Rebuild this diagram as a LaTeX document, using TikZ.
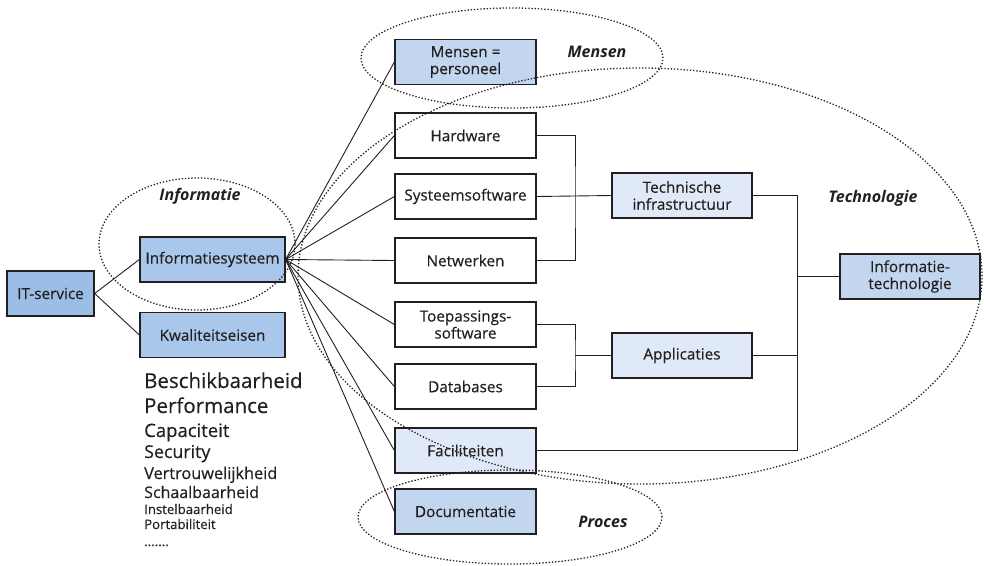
\documentclass[tikz,border=0pt]{standalone}
\usepackage{fontspec}
\setmainfont{Open Sans}[UprightFeatures={FakeBold=0.35}]
\begin{document}
\definecolor{ink}{HTML}{231F20}
\definecolor{blueA}{HTML}{9BBDE6}
\definecolor{blueB}{HTML}{A9C7EB}
\definecolor{blueC}{HTML}{C3D6EF}
\definecolor{blueD}{HTML}{E0E9F7}
\begin{tikzpicture}[x=1pt,y=-1pt,
  box/.style={draw=ink,line width=1.3pt,rectangle,minimum width=141pt,minimum height=45pt,
    inner sep=1pt,align=center,font=\fontsize{15.3}{17}\selectfont,text=ink},
  link/.style={draw=ink,line width=0.9pt},
  zone/.style={draw=ink,line width=1.3pt,dash pattern=on 1.3pt off 1.9pt},
  zonelabel/.style={font=\fontsize{16}{18}\selectfont\bfseries\itshape,text=ink},
  req/.style={anchor=base west,inner sep=0pt,text=ink}]
\useasboundingbox (0,0) rectangle (984,565);

% left part
\node[box,fill=blueA,minimum width=87pt] (it) at (50.5,293.5) {IT-service};
\node[box,fill=blueB,minimum width=145pt] (isys) at (212.5,259.5) {Informatiesysteem};
\node[box,fill=blueB,minimum width=145pt] (kwal) at (212.5,335) {Kwaliteitseisen};

% middle column
\node[box,fill=blueC] (mens) at (465.5,62) {Mensen =\\personeel};
\node[box,fill=white] (hw) at (465.5,135.5) {Hardware};
\node[box,fill=white] (sys) at (465.5,196.5) {Systeemsoftware};
\node[box,fill=white] (net) at (465.5,260.5) {Netwerken};
\node[box,fill=white] (toep) at (465.5,324.5) {Toepassings-\\software};
\node[box,fill=white] (db) at (465.5,386.5) {Databases};
\node[box,fill=blueD] (fac) at (465.5,450.5) {Faciliteiten};
\node[box,fill=blueC] (doc) at (465.5,511.5) {Documentatie};

% right part
\node[box,fill=blueD,minimum width=140pt] (tinf) at (682,195.5) {Technische\\infrastructuur};
\node[box,fill=blueD,minimum width=140pt] (app) at (682,355.5) {Applicaties};
\node[box,fill=blueC,minimum width=140pt] (itech) at (910,276.5) {Informatie-\\technologie};

% junctions
\coordinate (j1) at (575,196.5);
\coordinate (j2) at (575,355.5);
\coordinate (j3) at (797,276.5);

% connectors
\draw[link] (it.east) -- (isys.west);
\draw[link] (it.east) -- (kwal.west);
\foreach \n in {mens,hw,sys,net,toep,db,fac,doc}
  \draw[link] (isys.east) -- (\n.west);
\draw[link] (hw.east) -| (j1) |- (net.east);
\draw[link] (sys.east) -- (tinf.west);
\draw[link] (toep.east) -| (j2) |- (db.east);
\draw[link] (j2) -- (app.west);
\draw[link] (tinf.east) -| (j3) |- (fac.east);
\draw[link] (app.east) -- (app.east -| j3);
\draw[link] (j3) -- (itech.west);

% dotted zones
\draw[zone] (197,244) ellipse [x radius=98pt, y radius=66pt];
\draw[zone] (512,58) ellipse [x radius=151pt, y radius=50pt];
\draw[zone] (640,276) ellipse [x radius=342pt, y radius=208pt];
\draw[zone] (510,517) ellipse [x radius=152pt, y radius=47pt];

% zone labels
\node[zonelabel] (lInfo) at (200,196) {Informatie};
\node[zonelabel] (lMens) at (597,52) {Mensen};
\node[zonelabel] (lTech) at (873,198) {Technologie};
\node[zonelabel] (lProc) at (603,522) {Proces};

% quality requirements
\node[req,font=\fontsize{20.5}{22}\selectfont] (q1) at (144,388) {Beschikbaarheid};
\node[req,font=\fontsize{20.5}{22}\selectfont] (q2) at (144,413) {Performance};
\node[req,font=\fontsize{18.5}{20}\selectfont] (q3) at (144,437) {Capaciteit};
\node[req,font=\fontsize{17.8}{20}\selectfont] (q4) at (144,458) {Security};
\node[req,font=\fontsize{16.3}{18}\selectfont] (q5) at (144,479) {Vertrouwelijkheid};
\node[req,font=\fontsize{16}{18}\selectfont] (q6) at (144,498) {Schaalbaarheid};
\node[req,font=\fontsize{13.2}{15}\selectfont] (q7) at (144,514) {Instelbaarheid};
\node[req,font=\fontsize{13.2}{15}\selectfont] (q8) at (144,529) {Portabiliteit};
\node[req,font=\fontsize{13.2}{15}\selectfont] (q9) at (144,546) {.......};
\end{tikzpicture}
\end{document}
